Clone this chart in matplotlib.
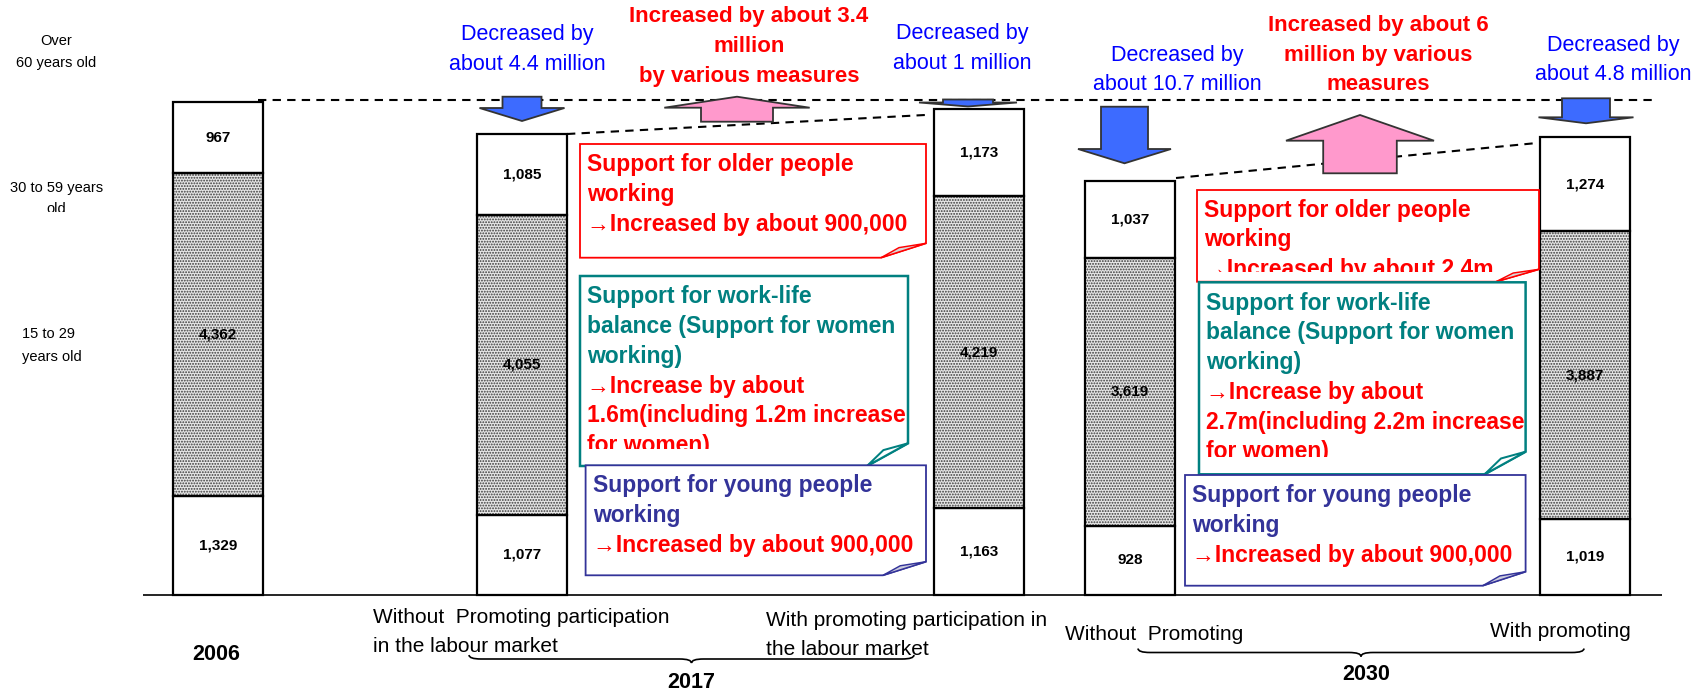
import matplotlib
matplotlib.use("Agg")
import matplotlib.pyplot as plt
from matplotlib.patches import Polygon, PathPatch
from matplotlib.path import Path
from matplotlib.transforms import Bbox, TransformedBbox

plt.rcParams['font.family'] = ['Liberation Sans', 'DejaVu Sans']
plt.rcParams['hatch.linewidth'] = 0.9

# labour force by age group (10,000 people)
bar_names = ["2006", "2017 without", "2017 with", "2030 without", "2030 with"]
age_15_29 = [1329, 1077, 1163, 928, 1019]
age_30_59 = [4362, 4055, 4219, 3619, 3887]
age_60_over = [967, 1085, 1173, 1037, 1274]

# layout (canvas pixels)
W, H = 1702, 692
bar_x = [218, 522, 979, 1130, 1585]
bar_w = 90
base_px = 594.5
px_per_unit = 0.074

RED = '#ff0000'
BLUE = '#0000ff'
TEAL = '#008080'
INDIGO = '#333399'
ARROW_BLUE = '#3d6bff'
PINK = '#ff99cc'

fig = plt.figure(figsize=(W / 100, H / 100), dpi=100)
ax = fig.add_axes([0, 0, 1, 1])
ax.set_xlim(0, W)
ax.set_ylim(-(H - base_px) / px_per_unit, base_px / px_per_unit)
ax.axis('off')

# stacked bars
mid_bottom = age_15_29
top_bottom = [a + b for a, b in zip(age_15_29, age_30_59)]
ax.bar(bar_x, age_15_29, bar_w, color='white', edgecolor='black', lw=1.6, zorder=2)
ax.bar(bar_x, age_30_59, bar_w, bottom=mid_bottom, color='#e6e6e6',
       edgecolor='#3a3a3a', lw=0, hatch='......', zorder=2)
ax.bar(bar_x, age_30_59, bar_w, bottom=mid_bottom, fill=False,
       edgecolor='black', lw=1.6, zorder=3)
ax.bar(bar_x, age_60_over, bar_w, bottom=top_bottom, color='white',
       edgecolor='black', lw=1.6, zorder=2)
ax.hlines(0, 143, 1662, color='black', lw=1.2, zorder=1)

for i, x in enumerate(bar_x):
    segs = [(0, age_15_29[i]), (mid_bottom[i], age_30_59[i]), (top_bottom[i], age_60_over[i])]
    for b, v in segs:
        ax.text(x, b + v / 2, f"{v:,}", ha='center', va='center',
                fontsize=11, fontweight='bold', zorder=4)

# overlay in pixel coordinates (y downwards)
ov = fig.add_axes([0, 0, 1, 1], zorder=5)
ov.set_xlim(0, W)
ov.set_ylim(H, 0)
ov.axis('off')


def lines(x, y0, step, items, size=16.5, weight='bold', ha='left', clip=None, z=6):
    for k, (s, c) in enumerate(items):
        t = ov.text(x, y0 + k * step, s, color=c, fontsize=size, fontweight=weight,
                    ha=ha, va='center', zorder=z)
        if clip is not None:
            t.set_clip_on(True)
            t.set_clip_box(TransformedBbox(Bbox.from_extents(0, 0, W, clip), ov.transData))


def block_arrow(cx, y_top, y_head, y_tip, shaft, head, fc):
    pts = [(cx - shaft, y_top), (cx + shaft, y_top), (cx + shaft, y_head), (cx + head, y_head),
           (cx, y_tip), (cx - head, y_head), (cx - shaft, y_head)]
    ov.add_patch(Polygon(pts, closed=True, fc=fc, ec='#333333', lw=1.3, zorder=4))


def callout(x0, x1, y0, y1, fx, fy, ec, fold_fc, z, lw=1.3):
    pts = [(x0, y0), (x1, y0), (x1, fy), (fx, y1), (x0, y1)]
    ov.add_patch(Polygon(pts, closed=True, fc='white', ec=ec, lw=lw, zorder=z))
    p3 = (fx + 0.4 * (x1 - fx), fy + 0.3 * (y1 - fy))
    ov.add_patch(Polygon([(fx, y1), (x1, fy), p3], closed=True, fc=fold_fc, ec=ec,
                         lw=lw * 0.8, zorder=z))


def brace(x0, x1, y, h=4):
    xm = (x0 + x1) / 2
    verts = [(x0, y - h), (x0, y), (x0 + 12, y), (xm - 12, y), (xm, y), (xm, y + h),
             (xm, y), (xm + 12, y), (x1 - 12, y), (x1, y), (x1, y - h)]
    codes = [Path.MOVETO, Path.CURVE3, Path.CURVE3, Path.LINETO, Path.CURVE3, Path.CURVE3,
             Path.CURVE3, Path.CURVE3, Path.LINETO, Path.CURVE3, Path.CURVE3]
    ov.add_patch(PathPatch(Path(verts, codes), fc='none', ec='black', lw=1.2))


# dashed guide lines
dash = dict(color='black', lw=1.5, ls=(0, (4, 3)), zorder=3)
ov.plot([258, 1653], [100, 100], **dash)
ov.plot([567, 925], [134, 115], **dash)
ov.plot([1176, 1537], [178, 143], **dash)

# arrows
block_arrow(522, 96.7, 108, 121, 19.5, 42.5, ARROW_BLUE)
block_arrow(737, 121.7, 107.7, 96.7, 36, 72.7, PINK)
block_arrow(968, 99.5, 102.5, 106.5, 25, 49, ARROW_BLUE)
block_arrow(1124.5, 106.7, 149, 163.3, 23.5, 46.5, ARROW_BLUE)
block_arrow(1360, 173.3, 140.7, 115, 36.8, 74, PINK)
block_arrow(1586, 98.3, 117.3, 123.3, 24, 47.5, ARROW_BLUE)

# top annotations
lines(527, 34.3, 29.7, [("Decreased by", BLUE), ("about 4.4 million", BLUE)],
      size=15.5, weight='normal', ha='center')
lines(749, 16.7, 30, [("Increased by about 3.4", RED), ("million", RED),
                      ("by various measures", RED)], size=16, ha='center')
lines(962, 33.3, 30, [("Decreased by", BLUE), ("about 1 million", BLUE)],
      size=15.5, weight='normal', ha='center')
lines(1177, 55, 30, [("Decreased by", BLUE), ("about 10.7 million", BLUE)],
      size=15.5, weight='normal', ha='center')
lines(1378, 25, 30, [("Increased by about 6", RED), ("million by various", RED),
                     ("measures", RED)], size=16, ha='center')
lines(1613.6, 45, 30, [("Decreased by", BLUE), ("about 4.8 million", BLUE)],
      size=15.5, weight='normal', ha='center')

# callout boxes, 2017
callout(580, 926, 144, 257.7, 881, 243.3, RED, '#d9d9d9', 6)
lines(587, 164, 30, [("Support for older people", RED), ("working", RED),
                     ("→Increased by about 900,000", RED)], z=6.5)
callout(580, 908, 276, 466, 867, 443.3, TEAL, 'white', 7, lw=1.8)
lines(587, 296.7, 29.8, [("Support for work-life", TEAL), ("balance (Support for women", TEAL),
                         ("working)", TEAL), ("→Increase by about", RED),
                         ("1.6m(including 1.2m increase", RED), ("for women)", RED)],
      clip=449, z=7.5)
callout(585.6, 926, 465.3, 575.3, 883, 561.7, INDIGO, '#ccccdd', 8)
lines(593, 485.3, 30.2, [("Support for young people", INDIGO), ("working", INDIGO),
                         ("→Increased by about 900,000", RED)], z=8.5)

# callout boxes, 2030
callout(1197, 1539, 190, 281.7, 1496, 269.3, RED, '#d9d9d9', 6)
lines(1204, 210, 29.7, [("Support for older people", RED), ("working", RED),
                        ("→Increased by about 2.4m", RED)], clip=272, z=6.5)
callout(1199, 1525.6, 282.3, 474.3, 1484.6, 451.7, TEAL, 'white', 7, lw=1.8)
lines(1206.4, 303.3, 29.7, [("Support for work-life", TEAL), ("balance (Support for women", TEAL),
                            ("working)", TEAL), ("→Increase by about", RED),
                            ("2.7m(including 2.2m increase", RED), ("for women)", RED)],
      clip=457, z=7.5)
callout(1185, 1525.6, 475, 585.7, 1482.7, 571.7, INDIGO, '#ccccdd', 8)
lines(1192, 495.7, 30, [("Support for young people", INDIGO), ("working", INDIGO),
                        ("→Increased by about 900,000", RED)], z=8.5)

# age group labels on the left
lines(56, 40.7, 22, [("Over", 'black'), ("60 years old", 'black')], size=10.5,
      weight='normal', ha='center')
lines(56.5, 187.7, 21, [("30 to 59 years", 'black'), ("old", 'black')], size=10.5,
      weight='normal', ha='center', clip=212)
lines(22.5, 334, 22.7, [("15 to 29", 'black'), ("years old", 'black')], size=10.5,
      weight='normal')

# bottom category labels
lines(373, 617.3, 28.7, [("Without  Promoting participation", 'black'),
                         ("in the labour market", 'black')], size=15, weight='normal', clip=652)
lines(766, 620, 29.3, [("With promoting participation in", 'black'),
                       ("the labour market", 'black')], size=15, weight='normal')
lines(1064.7, 634, 30, [("Without  Promoting", 'black')], size=15, weight='normal')
lines(1490, 631.7, 30, [("With promoting", 'black')], size=15, weight='normal')
lines(216, 655, 30, [("2006", 'black')], size=15.5, ha='center')
lines(691.6, 682, 30, [("2017", 'black')], size=15.5, ha='center')
lines(1366, 675, 30, [("2030", 'black')], size=15.5, ha='center')

brace(469, 914, 659)
brace(1138, 1584, 652.5)

fig.savefig("out.png", dpi=100)
